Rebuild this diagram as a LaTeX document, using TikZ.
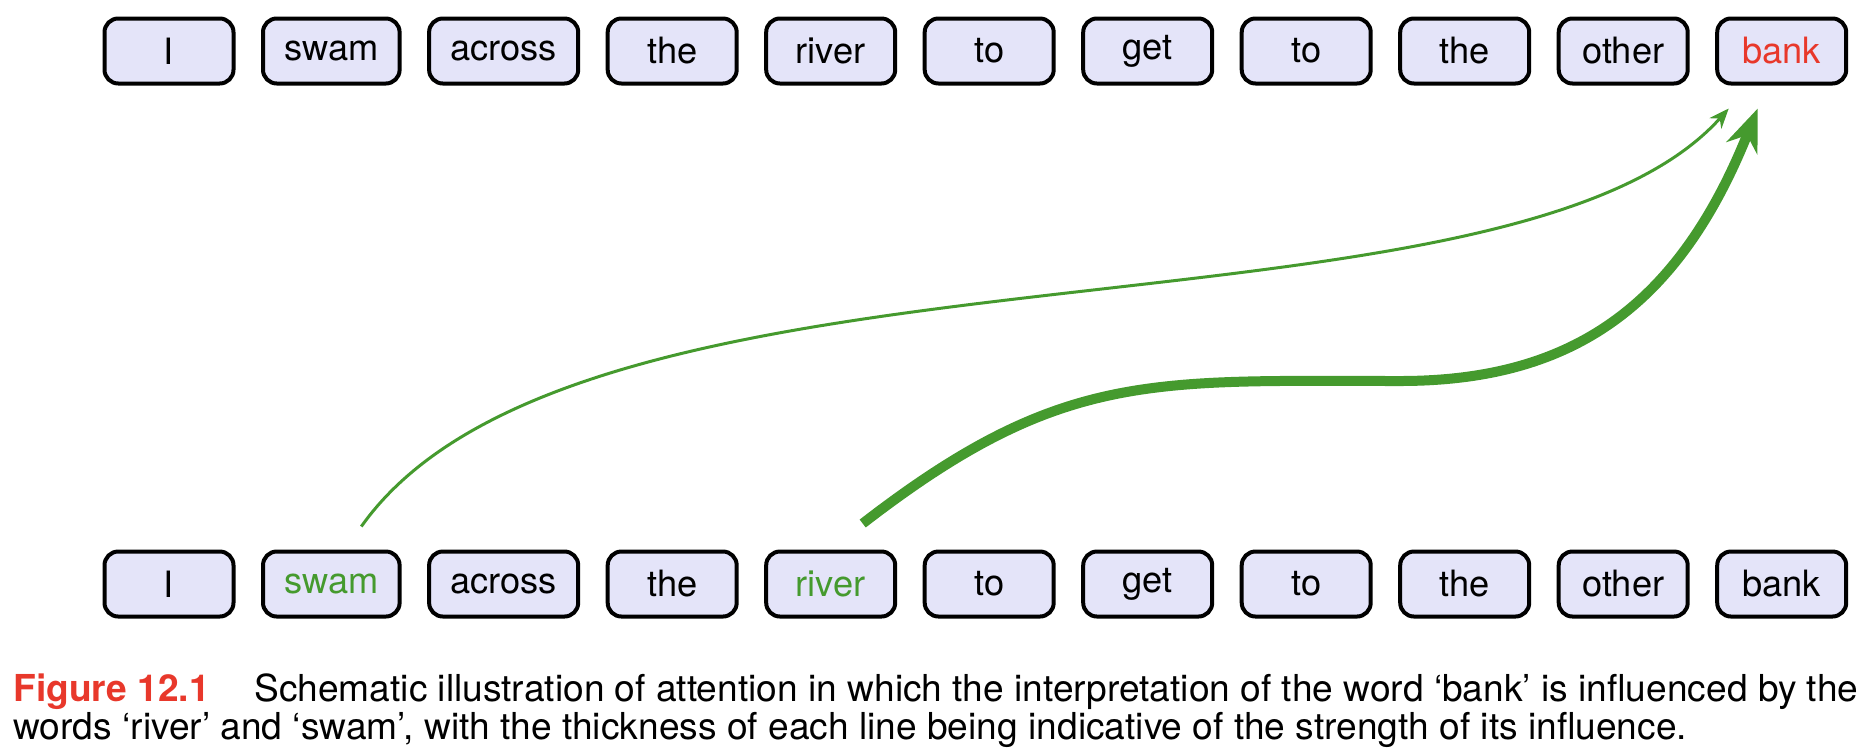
\documentclass[tikz,border=0pt]{standalone}
\usepackage{fontspec}
\setmainfont{TeX Gyre Heros}
\usetikzlibrary{positioning,arrows.meta}
\definecolor{wordfill}{HTML}{E4E4F9}
\definecolor{attn}{HTML}{459A2E}
\definecolor{focus}{HTML}{E8382B}

\begin{document}
\begin{tikzpicture}[x=0.4pt, y=-0.4pt,
    every node/.style={text=black},
    word/.style={draw=black, fill=wordfill, rounded corners=5.5pt, line width=1.6pt,
                 minimum width=51.6pt, minimum height=26pt, inner xsep=8.5pt,
                 font=\fontsize{14.5}{16}\selectfont},
    weak/.style={draw=attn, line width=1.2pt, -{Stealth[length=8pt, width=6.4pt]}},
    strong/.style={draw=attn, line width=4pt, -{Stealth[length=17pt, width=13.2pt]}},
    node distance=10.2pt,
  ]
  \useasboundingbox (0,0) rectangle (1870,748);

  % the sentence at the top (output side)
  \node[word] (I) at (169,51) {I};
  \node[word, right=of I]      (swam)   {swam};
  \node[word, right=of swam]   (across) {across};
  \node[word, right=of across] (theA)   {the};
  \node[word, right=of theA]   (river)  {river};
  \node[word, right=of river]  (toA)    {to};
  \node[word, right=of toA]    (get)    {get};
  \node[word, right=of get]    (toB)    {to};
  \node[word, right=of toB]    (theB)   {the};
  \node[word, right=of theB]   (other)  {other};
  \node[word, right=of other]  (bank)   {\textcolor{focus}{bank}};

  % the same sentence at the bottom (input side)
  \node[word, below=185.6pt of I]      (Ib)      {I};
  \node[word, below=185.6pt of swam]   (swamb)   {\textcolor{attn}{swam}};
  \node[word, below=185.6pt of across] (acrossb) {across};
  \node[word, below=185.6pt of theA]   (theAb)   {the};
  \node[word, below=185.6pt of river]  (riverb)  {\textcolor{attn}{river}};
  \node[word, below=185.6pt of toA]    (toAb)    {to};
  \node[word, below=185.6pt of get]    (getb)    {get};
  \node[word, below=185.6pt of toB]    (toBb)    {to};
  \node[word, below=185.6pt of theB]   (theBb)   {the};
  \node[word, below=185.6pt of other]  (otherb)  {other};
  \node[word, below=185.6pt of bank]   (bankb)   {bank};

  % attention links into 'bank'
  \coordinate (bend) at (1400,381);
  \draw[weak] ([shift={(30,-23)}]swamb.north)
        .. controls +(220,-311) and +(-223,250) .. ([shift={(-53,23)}]bank.south);
  \draw[strong] ([shift={(32,-26)}]riverb.north)
        .. controls +(198,-153) and +(-250,0) .. (bend)
        .. controls +(170,0) and +(-80,200) .. ([shift={(-24,23)}]bank.south);

  % caption
  \node[anchor=north west, align=left, inner sep=0pt, font=\fontsize{14.85}{13.2}\selectfont] (caption) at (13,673)
        {{\color{focus}\bfseries Figure 12.1}\hspace{1.2em}Schematic illustration of attention in which the interpretation of the word ‘bank’ is influenced by the\\
         words ‘river’ and ‘swam’, with the thickness of each line being indicative of the strength of its influence.};
\end{tikzpicture}
\end{document}
